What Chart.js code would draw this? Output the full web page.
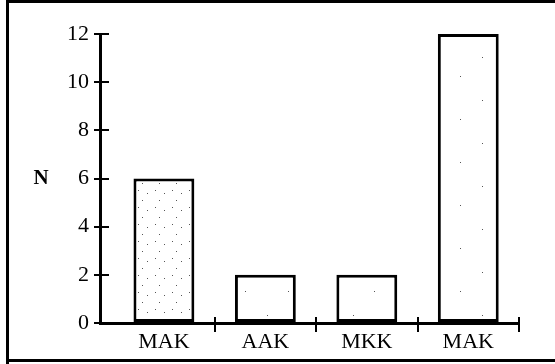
<!DOCTYPE html>
<html lang="en">
<head>
  <meta charset="UTF-8">
  <title>N par groupe</title>
  <script src="https://cdn.jsdelivr.net/npm/chart.js"></script>
  <style>
    body { margin: 0; background: #fff; }
    #wrap { position: relative; width: 555px; height: 364px; }
  </style>
</head>
<body>
  <div id="wrap"><canvas id="myChart"></canvas></div>
  <script>
    // Données
    const categories = ['MAK', 'AAK', 'MKK', 'MAK'];
    const counts = [6, 2, 2, 12];
    const yMin = 0;
    const yMax = 12;
    const yStep = 2;
    const yTitle = 'N';

    // petit motif de points pour le remplissage des barres
    function dotPattern(size, dots) {
      const c = document.createElement('canvas');
      c.width = size; c.height = size;
      const g = c.getContext('2d');
      g.fillStyle = '#fff';
      g.fillRect(0, 0, size, size);
      g.fillStyle = '#555';
      dots.forEach(d => g.fillRect(d[0], d[1], 1, 1));
      return g.createPattern(c, 'repeat');
    }
    const ctx = document.getElementById('myChart').getContext('2d');
    const dense = dotPattern(17, [[2, 3], [11, 6], [6, 13]]);
    const sparse = dotPattern(43, [[9, 14], [30, 33]]);

    // cadre, titre "N" et petits traits vers l'intérieur
    const decor = {
      id: 'decor',
      afterDraw(chart) {
        const c = chart.ctx;
        const y = chart.scales.y, x = chart.scales.x;
        c.save();
        c.strokeStyle = '#000';
        c.lineWidth = 3;
        c.beginPath();
        c.moveTo(7.5, 364);
        c.lineTo(7.5, 1.5);
        c.lineTo(555, 1.5);
        c.moveTo(7, 360.5);
        c.lineTo(555, 360.5);
        c.stroke();

        c.lineWidth = 2;
        c.beginPath();
        y.ticks.forEach(t => {
          const py = Math.round(y.getPixelForValue(t.value));
          c.moveTo(x.left, py);
          c.lineTo(x.left + 9, py);
        });
        for (let i = 1; i <= categories.length; i++) {
          const px = Math.round(x.getPixelForValue(i - 0.5));
          c.moveTo(px, y.bottom);
          c.lineTo(px, y.bottom - 6);
        }
        c.stroke();

        c.fillStyle = '#000';
        c.font = 'bold 21px "Liberation Serif"';
        c.textAlign = 'center';
        c.textBaseline = 'middle';
        c.fillText(yTitle, 41, y.getPixelForValue(6));
        c.restore();
      }
    };

    const myChart = new Chart(ctx, {
      type: 'bar',
      data: {
        labels: categories,
        datasets: [{
          data: counts,
          backgroundColor: [dense, sparse, sparse, sparse],
          borderColor: '#000',
          borderWidth: 3,
          borderSkipped: false,
          barPercentage: 0.6,
          categoryPercentage: 1
        }]
      },
      options: {
        responsive: true,
        maintainAspectRatio: false,
        animation: false,
        layout: { padding: { left: 0, top: 34, right: 36, bottom: 0 } },
        plugins: { legend: { display: false }, tooltip: { enabled: false } },
        scales: {
          x: {
            offset: true,
            afterFit: s => { s.height = 41; },
            // premier groupe un peu décalé de l'axe N
            afterBuildTicks: s => { s._startValue = -0.63; s._valueRange = 4.13; },
            border: { color: '#000', width: 3 },
            grid: {
              offset: true,
              drawOnChartArea: false,
              tickLength: 9,
              lineWidth: 2,
              color: c => c.index === 0 ? 'rgba(0,0,0,0)' : '#000'
            },
            ticks: {
              color: '#000',
              padding: -3,
              maxRotation: 0,
              font: { family: '"Liberation Serif"', size: 22 }
            }
          },
          y: {
            min: yMin,
            max: yMax,
            afterFit: s => { s.width = 100; },
            border: { color: '#000', width: 3 },
            grid: {
              drawOnChartArea: false,
              tickLength: 6,
              lineWidth: 2,
              color: '#000'
            },
            ticks: {
              stepSize: yStep,
              color: '#000',
              padding: 5,
              font: { family: '"Liberation Serif"', size: 22 }
            }
          }
        }
      },
      plugins: [decor]
    });
  </script>
</body>
</html>
